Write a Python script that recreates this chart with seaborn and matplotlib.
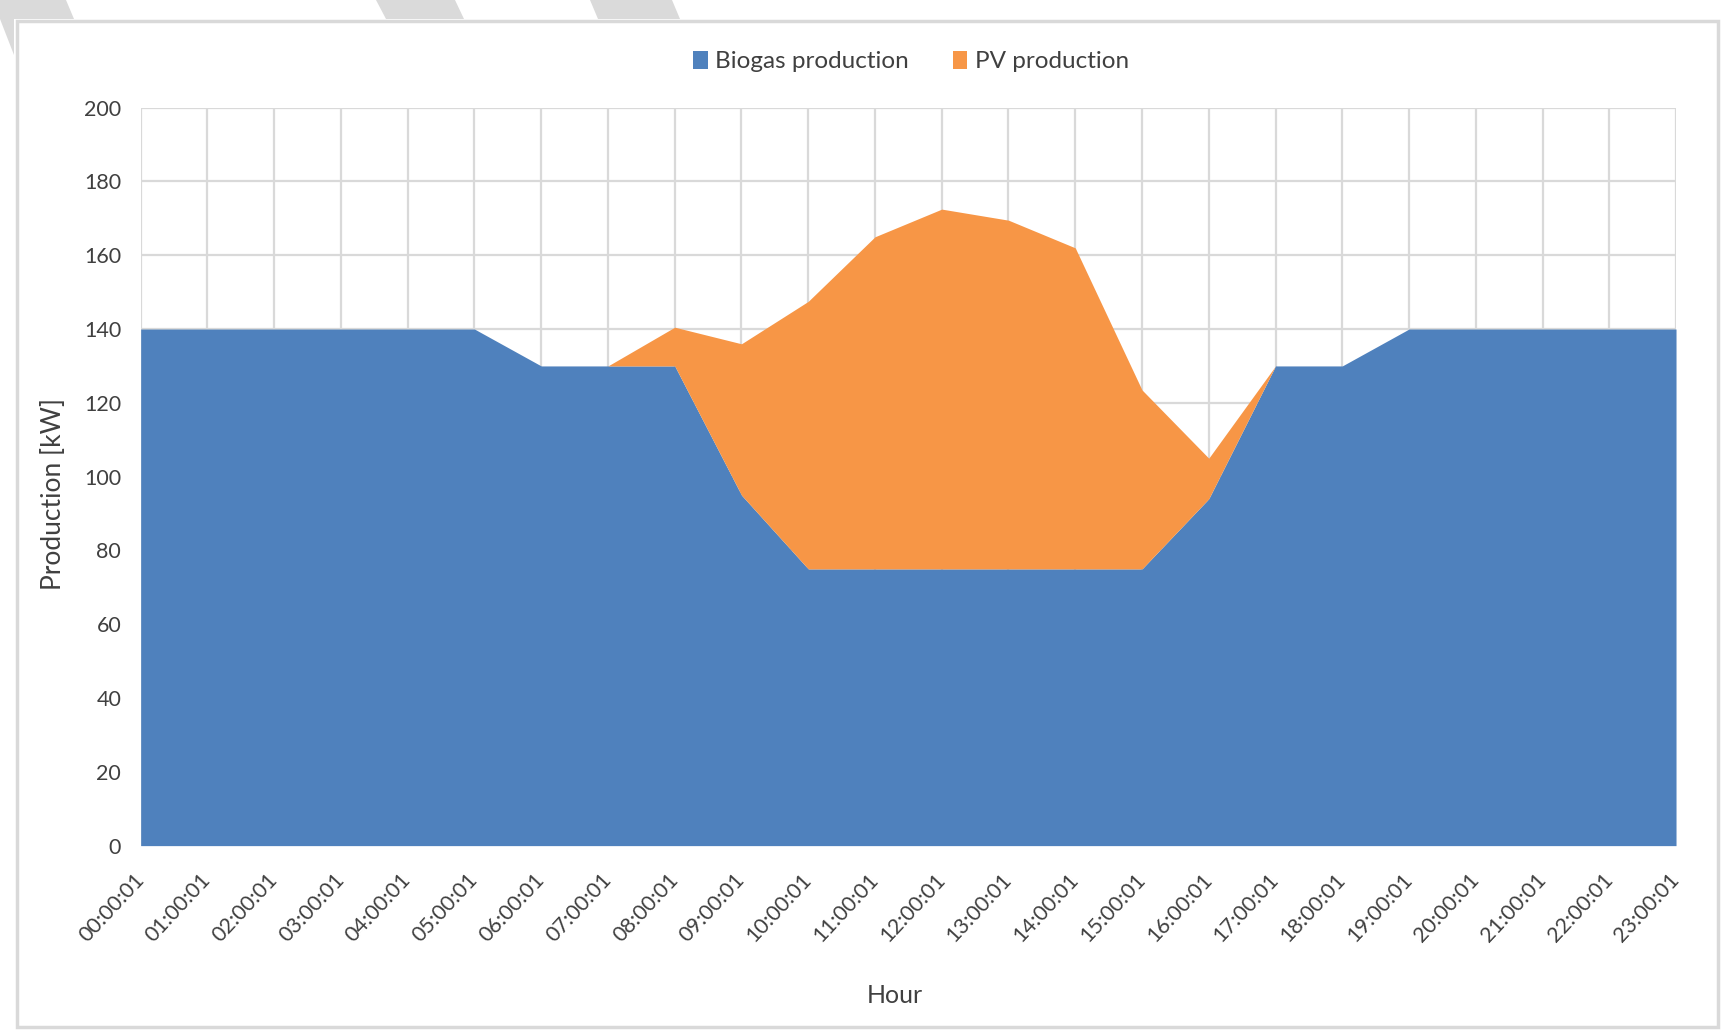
import matplotlib
matplotlib.use("Agg")
import matplotlib.pyplot as plt
from matplotlib.patches import Patch, Rectangle, Polygon
import numpy as np
import pandas as pd
import seaborn as sns

hours = [f"{h:02d}:00:01" for h in range(24)]
biogas = [140, 140, 140, 140, 140, 140, 130, 130, 130, 95, 75, 75,
          75, 75, 75, 75, 94, 130, 130, 140, 140, 140, 140, 140]
pv = [0, 0, 0, 0, 0, 0, 0, 0, 10.5, 41, 72.5, 90,
      97.5, 94.5, 87, 48.5, 11, 0, 0, 0, 0, 0, 0, 0]
y_ticks = list(range(0, 201, 20))

df = pd.DataFrame({"hour": hours, "Biogas production": biogas, "PV production": pv})

BLUE = "#4F81BD"
ORANGE = "#F79646"
GRID = "#D9D9D9"
TXT = "#404040"

sns.set_theme(style="whitegrid")
plt.rcParams["font.family"] = ["Lato", "DejaVu Sans"]

fig, ax = plt.subplots(figsize=(17.22, 10.30), dpi=100)
fig.subplots_adjust(left=0.0817, right=0.9733, top=0.8955, bottom=0.179)

x = np.arange(len(df))
ax.stackplot(x, df["Biogas production"], df["PV production"],
             colors=[BLUE, ORANGE], linewidth=0, zorder=2)

ax.set_xlim(0, len(df) - 1)
ax.set_ylim(0, 200)
ax.set_xticks(x)
ax.set_xticklabels(df["hour"], rotation=47, ha="right", va="center",
                   rotation_mode="anchor", fontsize=15.5, color=TXT)
ax.set_yticks(y_ticks)
ax.set_yticklabels([str(v) for v in y_ticks], fontsize=15.5, color=TXT)
ax.tick_params(axis="y", length=0, pad=14)
ax.tick_params(axis="x", length=0, pad=22)

ax.grid(True, color=GRID, linewidth=1.6, zorder=0)
ax.set_axisbelow(True)
for sp in ax.spines.values():
    sp.set_visible(False)
ax.set_facecolor("white")

ax.set_xlabel("Hour", fontsize=18, color=TXT)
ax.set_ylabel("Production [kW]", fontsize=19, color=TXT)
ax.xaxis.label.set_va("center")
ax.yaxis.label.set_va("center")
ax.xaxis.set_label_coords(0.491, -0.2025)
ax.yaxis.set_label_coords(-0.057, 0.476)

handles = [Patch(facecolor=BLUE, edgecolor="none", label="Biogas production"),
           Patch(facecolor=ORANGE, edgecolor="none", label="PV production")]
fig.legend(handles=handles, loc="center", bbox_to_anchor=(0.529, 0.940), ncol=2,
           frameon=False, fontsize=17.5, handlelength=0.6, handleheight=0.75,
           handletextpad=0.3, columnspacing=1.8, labelcolor=TXT)

# chart border and scraps of the screenshot background
W, H = 1722, 1030
fig.patches.append(Rectangle((17 / W, 1 - 1027 / H), (1718 - 17) / W, (1027 - 21) / H,
                             transform=fig.transFigure, fill=False,
                             edgecolor=GRID, linewidth=2.5, zorder=0))
for xs in [(0, 66, 74, 0), (376, 455, 464, 386), (590, 672, 680, 598)]:
    pts = [(xs[0] / W, 1.0), (xs[1] / W, 1.0), (xs[2] / W, 1 - 19 / H), (xs[3] / W, 1 - 19 / H)]
    fig.patches.append(Polygon(pts, closed=True, transform=fig.transFigure,
                               facecolor="#DADADA", edgecolor="none"))
fig.patches.append(Polygon([(0, 1 - 19 / H), (14 / W, 1 - 19 / H), (14 / W, 1 - 55 / H)],
                           closed=True, transform=fig.transFigure,
                           facecolor="#DADADA", edgecolor="none"))

fig.savefig("out.png", dpi=100, facecolor="white")
